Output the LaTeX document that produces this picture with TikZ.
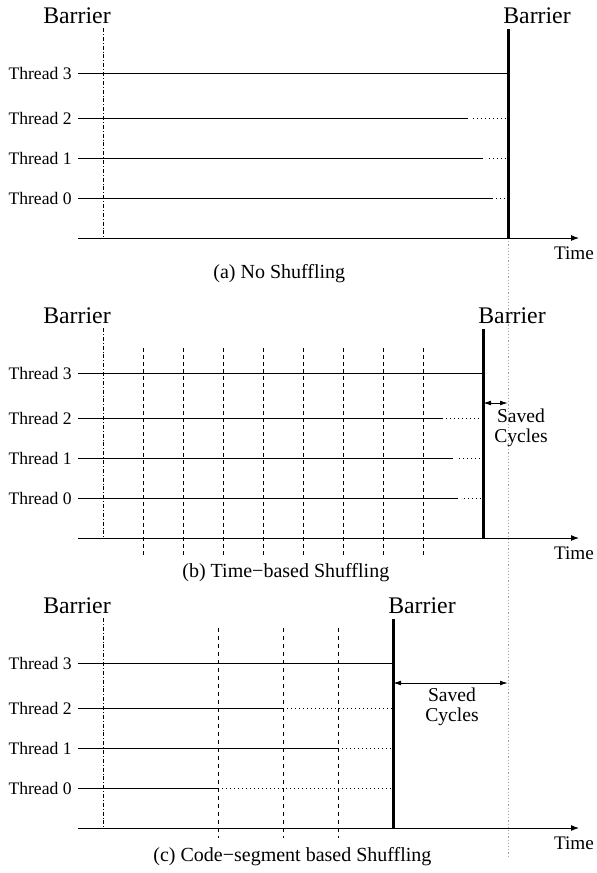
\documentclass[tikz,border=0pt]{standalone}
\usepackage{fontspec}
\setmainfont{Liberation Serif}
\usetikzlibrary{arrows.meta}

\tikzset{
  lbl/.style={font=\fontsize{8.8}{10}\selectfont, anchor=east, inner sep=3pt},
  barlbl/.style={font=\fontsize{11.9}{13}\selectfont, inner sep=0pt},
  txt/.style={font=\fontsize{9.6}{10}\selectfont, inner sep=0pt, align=center},
  captxt/.style={font=\fontsize{10}{11}\selectfont, inner sep=0pt, anchor=west},
  work/.style={line width=0.5pt},
  idle/.style={line width=0.5pt, dash pattern=on 0.5pt off 1.5pt},
  barrier/.style={line width=1.5pt},
  origin/.style={line width=0.4pt, dash pattern=on 2pt off 1pt on 0.4pt off 1pt},
  slice/.style={line width=0.5pt, dash pattern=on 2pt off 1.5pt},
  axis/.style={line width=0.5pt, -{Latex[length=4pt,width=3pt]}},
  gap/.style={line width=0.5pt,
    {Latex[length=4pt,width=2.4pt]}-{Latex[length=4pt,width=2.4pt]}},
}

\begin{document}
\begin{tikzpicture}[x=0.5pt, y=-0.5pt]
  \useasboundingbox (0,0) rectangle (597,873);

  % reference barrier of the unshuffled run, carried down through all panels
  \coordinate (ref) at (508,238);
  \coordinate (refend) at (508,858);
  \draw[gray!70, line width=0.5pt, dash pattern=on 0.6pt off 1pt] (ref) -- (refend);

  % common frame: panel / y offset / barrier x / caption x / caption y / caption
  \foreach \p/\oy/\bx/\cx/\cy/\cap in
    {a/0/508/213/274/{(a) No Shuffling},
     b/300/483/182/573/{(b) Time−based Shuffling},
     c/590/393/153/857/{(c) Code−segment based Shuffling}} {
    \node[barlbl] (left\p) at (77,{\oy+16}) {Barrier};
    \node[barlbl] (right\p) at ({\bx+29},{\oy+16}) {Barrier};
    \coordinate (start\p) at (103,{\oy+28});
    \coordinate (top\p) at (\bx,{\oy+29});
    \coordinate (ax\p) at (78,{\oy+238});
    \coordinate (axend\p) at (579,{\oy+238});
    \draw[origin] (start\p) -- (start\p |- ax\p);
    \draw[barrier] (top\p) -- (top\p |- ax\p);
    \draw[axis] (ax\p) -- (axend\p);
    \foreach \t/\ty in {3/73, 2/118, 1/158, 0/198}
      \node[lbl] (th\t\p) at (78,{\oy+\ty}) {Thread \t};
    \draw[work] (th3\p.east) -- (th3\p.east -| top\p);
    \node[txt] (time\p) at (574,{\oy+253}) {Time};
    \node[captxt] (cap\p) at (\cx,\cy) {\cap};
  }

  % (a) threads reach the barrier at different times
  \foreach \t/\ex/\gx in {2/468/473, 1/483/489, 0/493/496} {
    \draw[work] (th\t a.east) -- ({\ex},0 |- th\t a.east) coordinate (end\t a);
    \draw[idle] ({\gx},0 |- end\t a) -- (end\t a -| topa);
  }

  % (b) fixed time slices
  \foreach \x in {143,183,...,423}
    \draw[slice] (\x,348) -- (\x,558);
  \foreach \t/\ex/\gx in {2/443/446, 1/453/459, 0/458/464} {
    \draw[work] (th\t b.east) -- ({\ex},0 |- th\t b.east) coordinate (end\t b);
    \draw[idle] ({\gx},0 |- end\t b) -- (end\t b -| topb);
  }
  \coordinate (savedb1) at (483,403);
  \draw[gap] (savedb1) -- (savedb1 -| ref);
  \node[txt, font=\fontsize{9.8}{10}\selectfont] (savedb) at (521,428) {Saved\\Cycles};

  % (c) slices at code segment boundaries
  \foreach \x in {218,283,338}
    \draw[slice, dash pattern=on 2pt off 2pt] (\x,628) -- (\x,838);
  \foreach \t/\ex in {2/283, 1/338, 0/218} {
    \draw[work] (th\t c.east) -- ({\ex},0 |- th\t c.east) coordinate (end\t c);
    \draw[idle] (end\t c) -- (end\t c -| topc);
  }
  \coordinate (savedc1) at (393,683);
  \draw[gap] (savedc1) -- (savedc1 -| ref);
  \node[txt, font=\fontsize{9.8}{10}\selectfont] (savedc) at (452,707) {Saved\\Cycles};
\end{tikzpicture}
\end{document}
